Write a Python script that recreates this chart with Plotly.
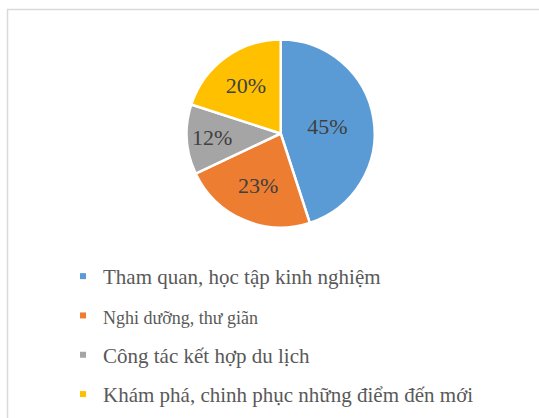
import plotly.graph_objects as go

categories = [
    "Tham quan, học tập kinh nghiệm",
    "Nghi dưỡng, thư giãn",
    "Công tác kết hợp du lịch",
    "Khám phá, chinh phục những điểm đến mới",
]
values = [45, 23, 12, 20]
colors = ["#5b9bd5", "#ed7d31", "#a5a5a5", "#ffc000"]
legend_sizes = [21, 18, 21, 21]

W, H = 539, 418
cx, cy, r = 280.7, 133.5, 94

fig = go.Figure()
fig.add_trace(go.Pie(
    labels=categories,
    values=values,
    sort=False,
    direction="clockwise",
    rotation=0,
    textinfo="percent",
    texttemplate="%{percent:.0%}",
    textposition="inside",
    insidetextorientation="horizontal",
    textfont=dict(family="Liberation Serif", size=22, color="#404040"),
    marker=dict(colors=colors, line=dict(color="white", width=2.5)),
    domain=dict(x=[(cx - r) / W, (cx + r) / W], y=[1 - (cy + r) / H, 1 - (cy - r) / H]),
    showlegend=False,
    hoverinfo="skip",
))

for i, (name, col, fs) in enumerate(zip(categories, colors, legend_sizes)):
    fig.add_trace(go.Scatter(
        x=[None], y=[None], mode="markers",
        marker=dict(symbol="square", size=6, color=col),
        name=f'<span style="font-size:{fs}px">{name}</span>',
        legendgroup=f"g{i}",
        showlegend=True,
    ))

fig.update_layout(
    width=W, height=H,
    margin=dict(l=0, r=0, t=0, b=0),
    paper_bgcolor="white",
    plot_bgcolor="white",
    xaxis=dict(visible=False),
    yaxis=dict(visible=False),
    showlegend=True,
    legend=dict(
        x=63 / W, xanchor="left",
        y=1 - 256 / H, yanchor="top",
        font=dict(family="Liberation Serif", size=21, color="#595959"),
        tracegroupgap=9,
        bgcolor="rgba(0,0,0,0)",
    ),
    shapes=[dict(
        type="rect", xref="paper", yref="paper",
        x0=7.5 / W, x1=1.02, y0=-0.02, y1=1 - 9.5 / H,
        line=dict(color="#d9d9d9", width=1.5),
    )],
)

fig.write_html(
    "out.html",
    config={"displayModeBar": False},
    post_script="document.body.style.margin='0';document.body.style.overflow='hidden';",
)
